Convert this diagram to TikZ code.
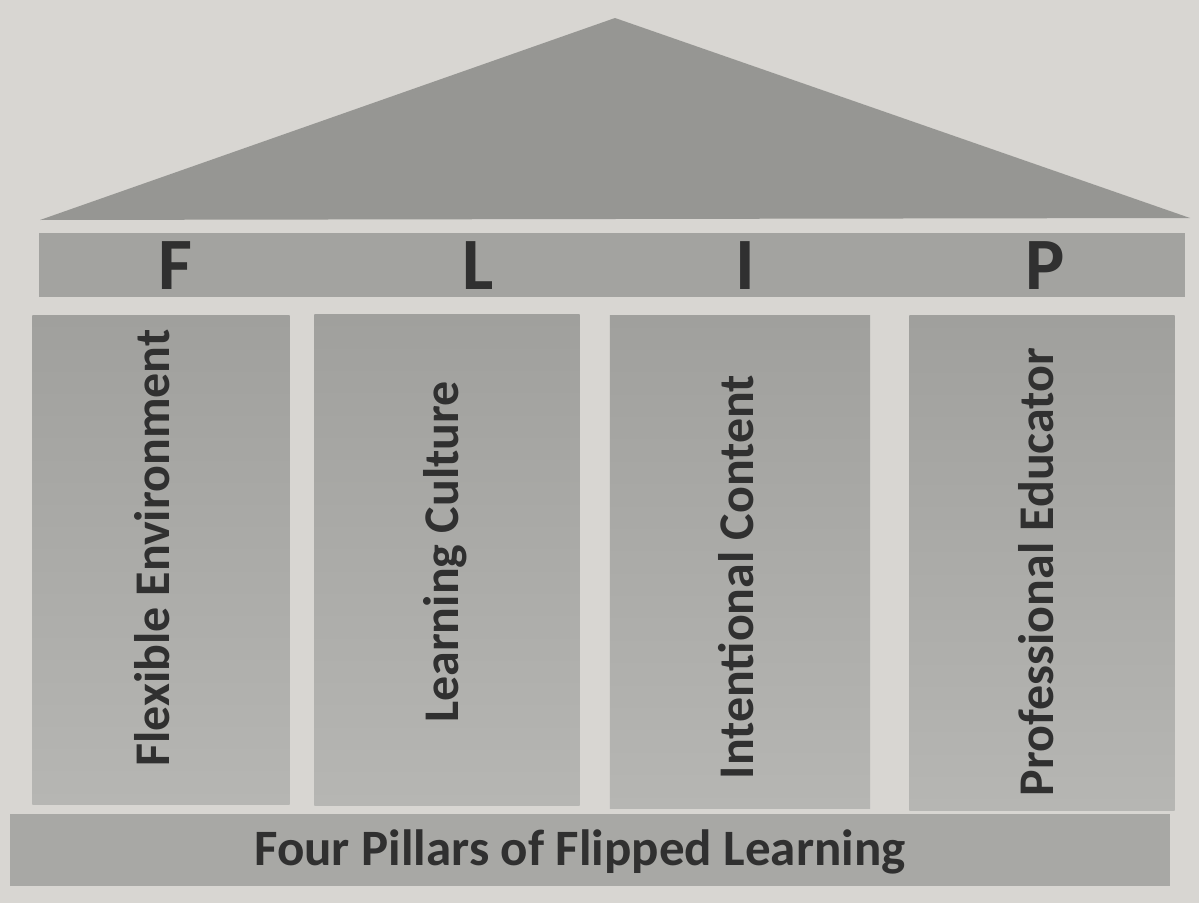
\documentclass[tikz,border=0pt]{standalone}
\usepackage{fontspec}
\setmainfont{Carlito}
\usepackage{tikz}
\usetikzlibrary{shapes,positioning}
\usepackage{xcolor}
\definecolor{flpaper}{RGB}{216,214,210}
\definecolor{flroof}{RGB}{150,150,147}
\definecolor{flband}{RGB}{163,163,160}
\definecolor{flpillartop}{RGB}{160,160,157}
\definecolor{flpillarbot}{RGB}{182,182,179}
\definecolor{flbase}{RGB}{168,168,165}
\definecolor{flink}{RGB}{48,48,48}
\tikzstyle{pillar} = [rectangle, inner sep=0pt, top color=flpillartop, bottom color=flpillarbot]
\tikzstyle{pillarlabel} = [text=flink, rotate=90, font=\bfseries\fontsize{14.2}{16}\selectfont]
\tikzstyle{letter} = [text=flink, font=\bfseries\fontsize{21}{24}\selectfont]

\begin{document}
\begin{tikzpicture}[x=0.01cm, y=-0.01cm]
% Paper
\fill[flpaper] (0,0) rectangle (1199,903);
\useasboundingbox (0,0) rectangle (1199,903);

% Roof
\coordinate (apex) at (615,18);
\coordinate (eaveL) at (40,220);
\coordinate (eaveR) at (1190,218);
\fill[flroof] (eaveL) -- (apex) -- (eaveR) -- cycle;

% Letter band
\node[rectangle, fill=flband, inner sep=0pt, minimum width=11.45cm, minimum height=0.64cm] (band) at (612,265) {};
\node[letter] (F) at (175,266) {F};
\node[letter] (L) at (478,266) {L};
\node[letter] (I) at (745,266) {I};
\node[letter] (P) at (1045,266) {P};

% Pillars
\node[pillar, minimum width=2.57cm, minimum height=4.88cm] (flex) at (161,560) {};
\node[pillar, minimum width=2.65cm, minimum height=4.90cm] (cult) at (447,560) {};
\node[pillar, minimum width=2.60cm, minimum height=4.92cm] (cont) at (740,562) {};
\node[pillar, minimum width=2.65cm, minimum height=4.94cm] (educ) at (1042,563) {};
\node[pillarlabel] (flexlbl) at (152,548) {Flexible Environment};
\node[pillarlabel] (cultlbl) at (445,552) {Learning Culture};
\node[pillarlabel] (contlbl) at (736,577) {Intentional Content};
\node[pillarlabel] (educlbl) at (1036,572) {Professional Educator};

% Base
\node[rectangle, fill=flbase, inner sep=0pt, minimum width=11.6cm, minimum height=0.72cm] (base) at (590,850) {};
\node[text=flink, font=\bfseries\fontsize{14.5}{17}\selectfont] (baselbl) at (580,852) {Four Pillars of Flipped Learning};
\end{tikzpicture}
\end{document}
